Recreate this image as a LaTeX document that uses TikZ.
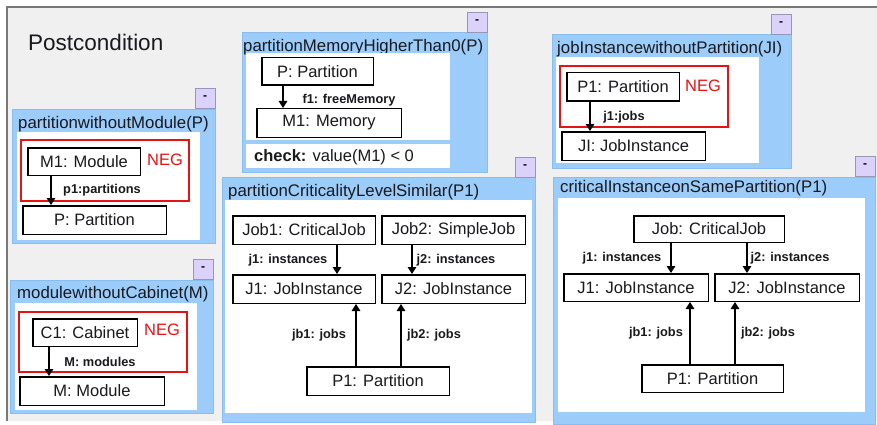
\documentclass[tikz,border=0pt]{standalone}
\usepackage{fontspec}
\setmainfont{Liberation Sans}
\usetikzlibrary{arrows.meta}

\definecolor{bggray}{RGB}{240,240,240}
\definecolor{framegray}{RGB}{120,120,120}
\definecolor{panelblue}{RGB}{155,204,250}
\definecolor{paneledge}{RGB}{138,188,236}
\definecolor{btnfill}{RGB}{218,210,250}
\definecolor{btnedge}{RGB}{150,150,185}
\definecolor{negred}{RGB}{228,20,20}
\definecolor{inktext}{RGB}{25,25,30}

\tikzset{
  obj/.style={draw=black, line width=1.5pt, fill=white, inner sep=0pt,
    text=inktext, font=\fontsize{16.5}{19}\selectfont},
  negbox/.style={draw=negred, line width=1.8pt},
  panel/.style={fill=panelblue, draw=paneledge, line width=0.6pt},
  inner/.style={fill=white},
  btn/.style={draw=btnedge, fill=btnfill, line width=0.6pt, inner sep=0pt,
    minimum width=20pt, minimum height=20pt, font=\fontsize{12}{12}\selectfont\bfseries},
  ptitle/.style={anchor=west, inner sep=0pt, text=inktext, font=\fontsize{16.8}{19}\selectfont},
  negtag/.style={anchor=west, inner sep=0pt, text=negred, font=\fontsize{16.5}{19}\selectfont},
  role/.style={inner sep=0pt, text=inktext, font=\fontsize{12.8}{14}\selectfont\bfseries},
  link/.style={draw=black, line width=1.5pt, -{Triangle[width=8.5pt,length=7pt]}},
}

% box from its corner positions: name, x1, y1, x2, y2, text
\newcommand\objbox[6]{%
  \node[obj, minimum width={#4-#2-1.5}, minimum height={#5-#3-1.5}]
    (#1) at ({(#2+#4)/2},{(#3+#5)/2}) {#6};}
% collapse button above a panel's right corner
\newcommand\minusbtn[3]{%
  \node[btn] (#1) at ({#2+10},{#3+10}) {-};}

\begin{document}
\begin{tikzpicture}[x=1pt, y=-1pt]
\useasboundingbox (0,0) rectangle (877,425);
\fill[white] (0,0) rectangle (877,425);
\fill[bggray] (7,7) rectangle (877,421);
\draw[framegray, line width=1.2pt] (7,421) -- (7,7) -- (877,7);

\node[anchor=west, inner sep=0pt, text=inktext, font=\fontsize{22.5}{26}\selectfont]
  (heading) at (28,42) {Postcondition};

% ---------------- partitionwithoutModule(P)
\draw[panel] (12,109) rectangle (215,243);
\minusbtn{btnA}{195}{88}
\node[ptitle] (titleA) at (18,124) {partitionwithoutModule(P)};
\fill[inner] (17,132) rectangle (200,240);
\draw[negbox] (21,140) rectangle (189,201);
\objbox{aM}{27}{147}{141}{176}{M1: Module}
\node[negtag] (negA) at (147,160) {NEG};
\objbox{aP}{22}{205}{167}{235}{P: Partition}
\coordinate (xa) at (51,0);
\draw[link] (aM.south -| xa) -- (aP.north -| xa);
\node[role] (lblA) at (102,190) {p1:partitions};

% ---------------- modulewithoutCabinet(M)
\draw[panel] (10,280) rectangle (213,413);
\minusbtn{btnB}{193}{259}
\node[ptitle] (titleB) at (17,294) {modulewithoutCabinet(M)};
\fill[inner] (15,303) rectangle (197,410);
\draw[negbox] (19,312) rectangle (187,372);
\objbox{bC}{32}{318}{138}{347}{C1: Cabinet}
\node[negtag] (negB) at (144,330) {NEG};
\objbox{bM}{19}{376}{165}{406}{M: Module}
\coordinate (xb) at (49,0);
\draw[link] (bC.south -| xb) -- (bM.north -| xb);
\node[role] (lblB) at (100,362) {M: modules};

% ---------------- partitionMemoryHigherThan0(P)
\draw[panel] (242,32) rectangle (487,172);
\minusbtn{btnC}{467}{12}
\node[ptitle] (titleC) at (243,47) {partitionMemoryHigherThan0(P)};
\fill[inner] (246,53) rectangle (450,140);
\objbox{cP}{261}{57}{374}{86}{P: Partition}
\objbox{cM}{256}{108}{402}{138}{M1: Memory}
\coordinate (xc) at (283,0);
\draw[link] (cP.south -| xc) -- (cM.north -| xc);
\node[role] (lblC) at (349,100) {f1: freeMemory};
\fill[inner] (246,144) rectangle (450,168);
\node[anchor=west, inner sep=0pt, text=inktext, font=\fontsize{16.5}{19}\selectfont]
  (checkC) at (254,157) {\textbf{check:} value(M1) < 0};

% ---------------- jobInstancewithoutPartition(JI)
\draw[panel] (552,34) rectangle (791,168);
\minusbtn{btnD}{771}{14}
\node[ptitle] (titleD) at (557,49) {jobInstancewithoutPartition(JI)};
\fill[inner] (556,57) rectangle (759,163);
\draw[negbox] (560,66) rectangle (728,127);
\objbox{dP}{566}{72}{680}{102}{P1: Partition}
\node[negtag] (negD) at (685,86) {NEG};
\objbox{dJ}{561}{131}{706}{161}{JI: JobInstance}
\coordinate (xd) at (590,0);
\draw[link] (dP.south -| xd) -- (dJ.north -| xd);
\node[role] (lblD) at (624,117) {j1:jobs};

% ---------------- partitionCriticalityLevelSimilar(P1)
\draw[panel] (222,177) rectangle (535,422);
\minusbtn{btnE}{515}{157}
\node[ptitle] (titleE) at (228,192) {partitionCriticalityLevelSimilar(P1)};
\fill[inner] (225,200) rectangle (532,413);
\objbox{eJobA}{232}{215}{376}{245}{Job1: CriticalJob}
\objbox{eJobB}{381}{215}{526}{245}{Job2: SimpleJob}
\objbox{eInA}{232}{274}{376}{304}{J1: JobInstance}
\objbox{eInB}{381}{274}{526}{304}{J2: JobInstance}
\objbox{eP}{306}{366}{450}{396}{P1: Partition}
\coordinate (xe1) at (337,0);
\coordinate (xe2) at (412,0);
\coordinate (xe3) at (356,0);
\coordinate (xe4) at (401,0);
\draw[link] (eJobA.south -| xe1) -- (eInA.north -| xe1);
\draw[link] (eJobB.south -| xe2) -- (eInB.north -| xe2);
\draw[link] (eP.north -| xe3) -- (eInA.south -| xe3);
\draw[link] (eP.north -| xe4) -- (eInB.south -| xe4);
\node[role] (lblE1) at (288,260) {j1: instances};
\node[role] (lblE2) at (456,260) {j2: instances};
\node[role] (lblE3) at (319,335) {jb1: jobs};
\node[role] (lblE4) at (434,335) {jb2: jobs};

% ---------------- criticalInstanceonSamePartition(P1)
\draw[panel] (553,177) rectangle (875,424);
\minusbtn{btnF}{855}{156}
\node[ptitle] (titleF) at (560,188) {criticalInstanceonSamePartition(P1)};
\fill[inner] (558,198) rectangle (865,412);
\objbox{fJob}{633}{215}{785}{243}{Job: CriticalJob}
\objbox{fInA}{563}{273}{709}{302}{J1: JobInstance}
\objbox{fInB}{714}{273}{860}{302}{J2: JobInstance}
\objbox{fP}{641}{364}{784}{393}{P1: Partition}
\coordinate (xf1) at (671,0);
\coordinate (xf2) at (747,0);
\coordinate (xf3) at (690,0);
\coordinate (xf4) at (735,0);
\draw[link] (fJob.south -| xf1) -- (fInA.north -| xf1);
\draw[link] (fJob.south -| xf2) -- (fInB.north -| xf2);
\draw[link] (fP.north -| xf3) -- (fInA.south -| xf3);
\draw[link] (fP.north -| xf4) -- (fInB.south -| xf4);
\node[role] (lblF1) at (622,258) {j1: instances};
\node[role] (lblF2) at (790,258) {j2: instances};
\node[role] (lblF3) at (656,333) {jb1: jobs};
\node[role] (lblF4) at (768,333) {jb2: jobs};
\end{tikzpicture}
\end{document}
